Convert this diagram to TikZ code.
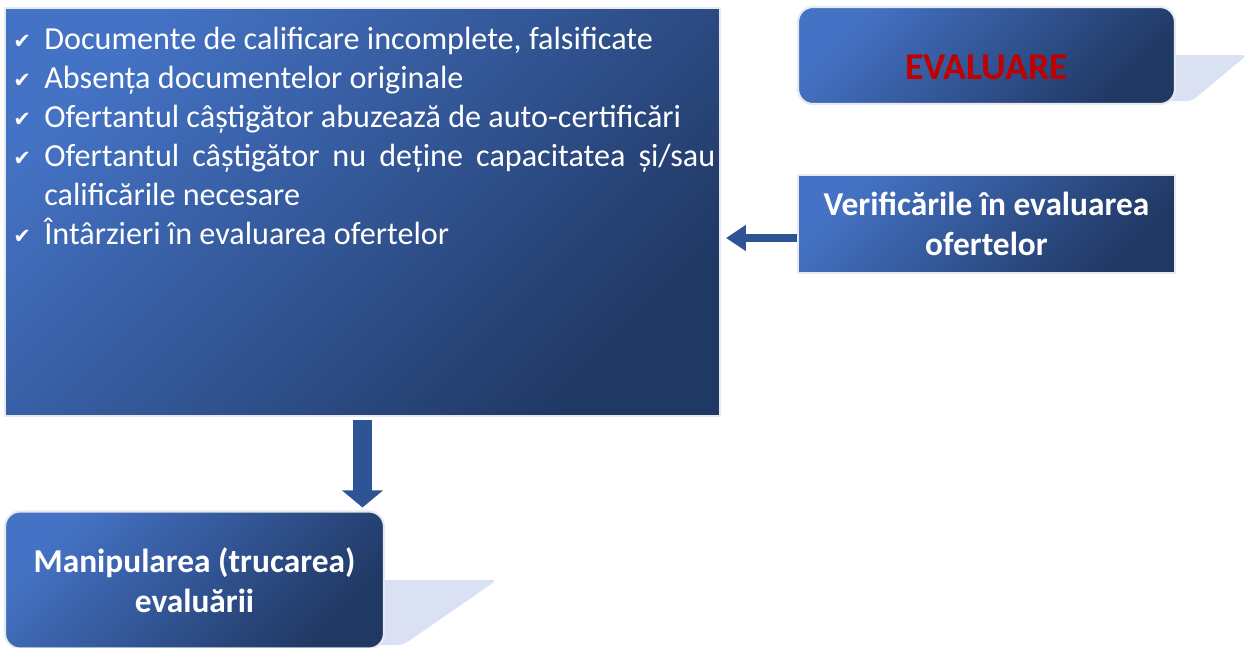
\documentclass[tikz,border=0pt]{standalone}
\usepackage{fontspec}
\setmainfont{Carlito}
\newfontfamily\symfont{DejaVu Sans}
\usetikzlibrary{arrows.meta,calc,positioning}
\definecolor{boxlight}{RGB}{68,114,196}
\definecolor{boxdark}{RGB}{32,56,100}
\definecolor{arrowblue}{RGB}{47,84,150}
\definecolor{tailblue}{RGB}{217,225,242}
\definecolor{evalred}{RGB}{192,0,0}
\definecolor{rimgray}{RGB}{230,233,238}
\newcommand{\chkitem}{\par\noindent\hangindent=0.62cm\hangafter=1\makebox[0.62cm][l]{\raisebox{0.5pt}{\symfont\fontsize{12}{12}\selectfont ✔}}}

\begin{document}
\begin{tikzpicture}[x=0.02cm, y=-0.02cm]
	\path [use as bounding box] (0,0) rectangle (1251,647);
	\tikzstyle{gradbox} = [rectangle, draw=rimgray, line width=1.2pt, top color=boxlight, bottom color=boxdark, shading angle=45, text=white, font=\bfseries\fontsize{19}{23}\selectfont, align=center, inner sep=0pt]
	\tikzstyle{blockarrow} = [draw=arrowblue, line cap=butt]
	% shadow tails
	\fill[tailblue, rounded corners=3pt] (1160,55) -- (1247,55) -- (1192,101) -- (1160,101) -- cycle;
	\fill[tailblue, rounded corners=3pt] (370,580) -- (497,580) -- (403,645) -- (370,645) -- cycle;
	% boxes
	\node[gradbox, rounded corners=0.3cm, minimum width=7.54cm, minimum height=1.94cm] (evalbox) at (986.5,55.5) {};
	\node[text=evalred, font=\bfseries\fontsize{21.5}{25}\selectfont] (evaltext) at (986.5,67) {EVALUARE};
	\node[gradbox, minimum width=7.54cm, minimum height=1.96cm] (verif) at (986.5,224) {Verificările în evaluarea\\ofertelor};
	\node[gradbox, minimum width=14.3cm, minimum height=8.16cm] (risks) at (362.5,212) {};
	\node[gradbox, rounded corners=0.3cm, minimum width=7.58cm, minimum height=2.74cm] (manip) at (194.5,580) {Manipularea (trucarea)\\evaluării};
	\node[anchor=north west, inner sep=0pt, text width=14.04cm, align=justify, text=white, font=\fontsize{18.3}{22.2}\selectfont] (risklist) at (13,10) {%
		\hyphenpenalty=10000
		\chkitem Documente de calificare incomplete, falsificate
		\chkitem Absența documentelor originale
		\chkitem Ofertantul câștigător abuzează de auto-certificări
		\chkitem Ofertantul câștigător nu deține capacitatea și/sau\linebreak calificările necesare
		\chkitem Întârzieri în evaluarea ofertelor\par};
	% arrows
	\coordinate (verifin) at ($(verif.west)+(0,14)$);
	\draw[blockarrow, line width=0.16cm, -{Triangle[width=0.5cm, length=0.4cm]}, shorten >=0.1cm] (verifin) -- (verifin -| risks.east);
	\draw[blockarrow, line width=0.38cm, -{Triangle[width=0.8cm, length=0.34cm]}, shorten <=0.06cm, shorten >=0.06cm] (risks.south) -- (risks.south |- manip.north);
\end{tikzpicture}
\end{document}
